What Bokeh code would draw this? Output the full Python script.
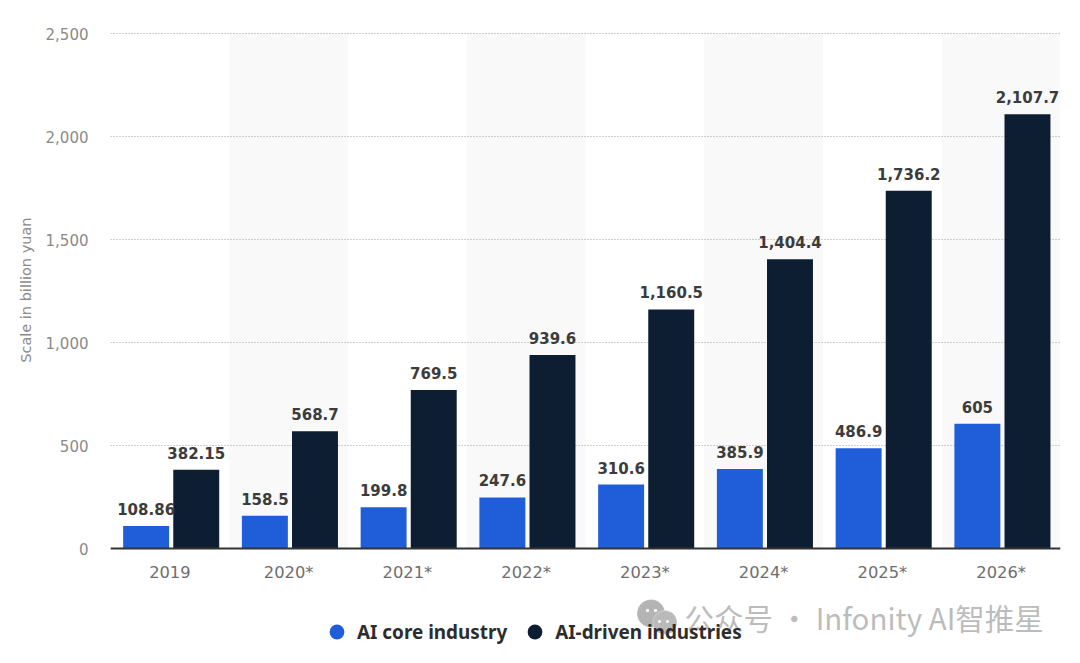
import numpy as np
from bokeh.plotting import figure
from bokeh.models import FactorRange, Range1d, ColumnDataSource, Legend, LegendItem, Label, PolyAnnotation, NumeralTickFormatter, FixedTicker, Title
from bokeh.transform import dodge
from bokeh.core.properties import value
from bokeh.embed import file_html
from bokeh.resources import INLINE

years = ["2019", "2020*", "2021*", "2022*", "2023*", "2024*", "2025*", "2026*"]
core = [108.86, 158.5, 199.8, 247.6, 310.6, 385.9, 486.9, 605]
driven = [382.15, 568.7, 769.5, 939.6, 1160.5, 1404.4, 1736.2, 2107.7]
band_years = ["2020*", "2022*", "2024*", "2026*"]
y_ticks = [0, 500, 1000, 1500, 2000, 2500]
y_title = "Scale in billion yuan"
legend_names = ["AI core industry", "AI-driven industries"]
watermark = "公众号 · Infonity AI智推星"

FONT = "DejaVu Sans"
BLUE = "#1f5ed8"
NAVY = "#0d1e33"

src = ColumnDataSource(dict(
    year=years, core=core, driven=driven,
    core_label=[f"{v:,}" for v in core],
    driven_label=[f"{v:,}" for v in driven],
))

PX = 2500 / 515
p = figure(width=1072, height=655, output_backend="svg", toolbar_location=None,
           x_range=FactorRange(*years, range_padding=0, factor_padding=0, group_padding=0),
           y_range=Range1d(-107 * PX, 2500 + PX), frame_width=950, frame_height=623,
           min_border_left=110, min_border_right=12, min_border_top=32, min_border_bottom=0)
p.outline_line_color = None
p.background_fill_color = "white"
p.border_fill_color = "white"

p.vbar(x=band_years, top=2500, bottom=0, width=1, fill_color="#f9f9f9", line_color=None, level="underlay")

W = 0.387
p.vbar(x=dodge("year", -0.2, range=p.x_range), top="core", width=W, source=src, fill_color=BLUE, line_color=None)
p.vbar(x=dodge("year", 0.222, range=p.x_range), top="driven", width=W, source=src, fill_color=NAVY, line_color=None)

for col, off, lab in (("core", -0.2, "core_label"), ("driven", 0.222, "driven_label")):
    p.text(x=dodge("year", off, range=p.x_range), y=col, text=lab, source=src,
           text_align="center", text_baseline="bottom", y_offset=-11,
           text_font=value(FONT), text_font_style="bold", text_font_size="15px", text_color="#3c3c3c")

p.xgrid.visible = False
p.ygrid.grid_line_color = "#a0a0a0"
p.ygrid.grid_line_dash = "1 2"
p.ygrid.grid_line_width = 1
p.ygrid.ticker = FixedTicker(ticks=y_ticks)

ya = p.yaxis[0]
ya.ticker = FixedTicker(ticks=y_ticks)
ya.formatter = NumeralTickFormatter(format="0,0")
ya.axis_line_color = None
ya.major_tick_line_color = None
ya.minor_tick_line_color = None
ya.major_label_standoff = 16
ya.major_label_text_font = FONT
ya.major_label_text_font_size = "15px"
ya.major_label_text_color = "#8a8a8a"

p.add_layout(Title(text=y_title, align="right", offset=185, standoff=17,
                   text_font=FONT, text_font_style="normal", text_font_size="14.5px",
                   text_color="#8a8a8a"), "left")

xa = p.xaxis[0]
xa.fixed_location = 0
xa.axis_line_color = "#333333"
xa.axis_line_width = 2
xa.major_tick_line_color = None
xa.minor_tick_line_color = None
xa.major_label_standoff = 8
xa.major_label_text_font = FONT
xa.major_label_text_font_size = "16.3px"
xa.major_label_text_color = "#6e6e6e"
xa.major_label_orientation = "horizontal"

p.add_layout(Label(x=574, y=39, x_units="screen", y_units="screen", text=watermark,
                   text_baseline="middle",
                   text_font="Noto Sans CJK SC", text_font_size="29.5px", text_color="#b8b8b8", text_alpha=0.95))

def circle(cx, cy, r, n=40):
    t = np.linspace(0, 2 * np.pi, n)
    return list(cx + r * np.cos(t)), list(cy + r * np.sin(t))

icon = [(540.5, 42, 14, "#b4b4b4"), (554.5, 33, 12, "#bababa"),
        (537, 45, 1.6, "white"), (545, 45, 1.6, "white"),
        (549, 34, 1.5, "white"), (557, 34, 1.5, "white")]
for i, (cx, cy, r, col) in enumerate(icon):
    xs, ys = circle(cx, cy, r)
    p.add_layout(PolyAnnotation(xs=xs, ys=ys, xs_units="screen", ys_units="screen",
                                fill_color=col, fill_alpha=1,
                                line_color="white" if i < 2 else None, line_width=1))

r1 = p.scatter(x=years[:1], y=[float("nan")], size=15, marker="circle", fill_color=BLUE, line_color=None)
r2 = p.scatter(x=years[:1], y=[float("nan")], size=15, marker="circle", fill_color=NAVY, line_color=None)
lg = Legend(items=[LegendItem(label=legend_names[0], renderers=[r1]),
                   LegendItem(label=legend_names[1], renderers=[r2])],
            orientation="horizontal", glyph_width=37, glyph_height=37,
            label_standoff=2, spacing=9, padding=0, margin=0,
            border_line_color=None, background_fill_alpha=0,
            label_text_font="Noto Sans", label_text_font_style="bold", label_text_font_size="18.9px",
            label_text_color="#2d2d2d", location=(208, 5))
p.add_layout(lg, "center")

open("out.html", "w").write(file_html(p, INLINE))
